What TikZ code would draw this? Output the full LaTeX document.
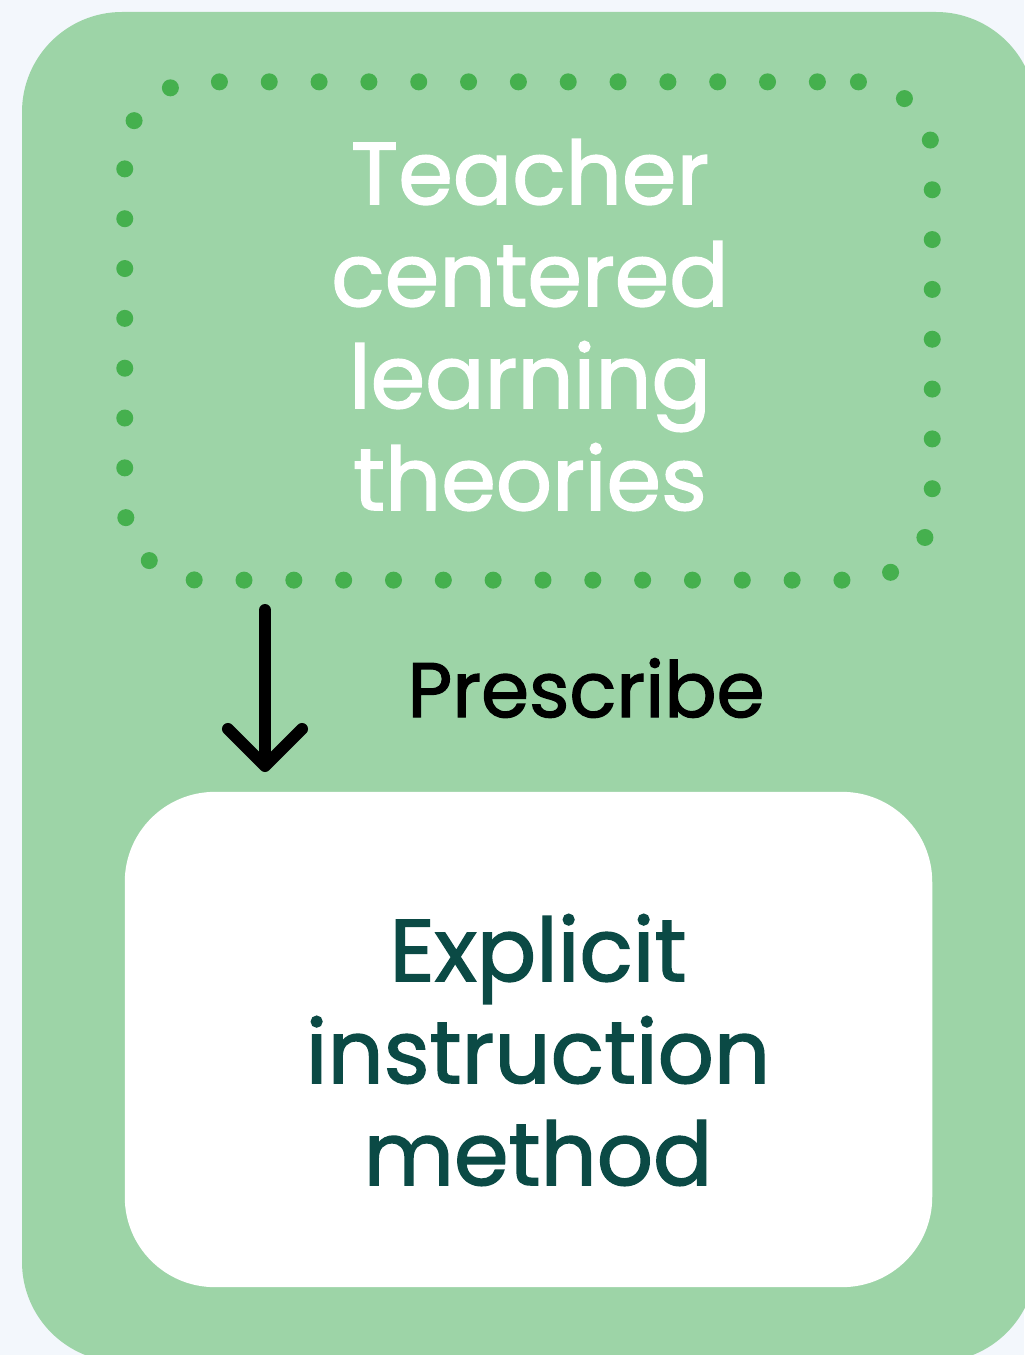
\documentclass[tikz,border=0pt]{standalone}
\usepackage{fontspec}
\setmainfont{Poppins}
\newfontfamily\medfont{Poppins}[FakeBold=1.6]
\usetikzlibrary{arrows.meta,positioning}
\definecolor{pagebg}{HTML}{F3F7FC}
\definecolor{panelgreen}{HTML}{9DD4A7}
\definecolor{dotgreen}{HTML}{45B04E}
\definecolor{darkteal}{HTML}{0B4A45}
\tikzset{
  dotbox/.style={draw=dotgreen, line width=0.17cm, line cap=round,
    dash pattern=on 0pt off 0.498cm, dash phase=0.1cm, rounded corners=0.75cm,
    minimum width=8.07cm, minimum height=4.98cm, inner sep=0pt},
  whitebox/.style={fill=white, rounded corners=0.9cm,
    minimum width=8.07cm, minimum height=4.95cm, inner sep=0pt},
  bigtext/.style={align=center, font=\medfont\fontsize{25}{29}\selectfont},
  arrow/.style={line width=0.12cm, line cap=round,
    -{Straight Barb[length=0.37cm, width=0.74cm, line cap=round, line join=round]}}
}
\begin{document}
\begin{tikzpicture}[x=0.01cm,y=-0.01cm]
\useasboundingbox (0,0) rectangle (1024,1355);
\fill[pagebg] (0,0) rectangle (1024,1355);
\fill[panelgreen, rounded corners=1cm] (22,12) rectangle (1036,1362);
% upper box
\node[dotbox] (theories) at (528.5,331) {};
\node[bigtext, text=white] (teacher) at (530,325) {Teacher\\centered\\learning\\theories};
% lower box
\node[whitebox] (method) at (528.5,1039.5) {};
\node[bigtext, text=darkteal] (explicit) at (538,1050) {Explicit\\instruction\\method};
% arrow
\coordinate (arrtop) at (265,610);
\coordinate (arrtip) at (265,772);
\draw[arrow] (arrtop) -- (arrtip);
\node[font=\medfont\fontsize{22}{26}\selectfont] (prescribe) at (586,688) {Prescribe};
\end{tikzpicture}
\end{document}
